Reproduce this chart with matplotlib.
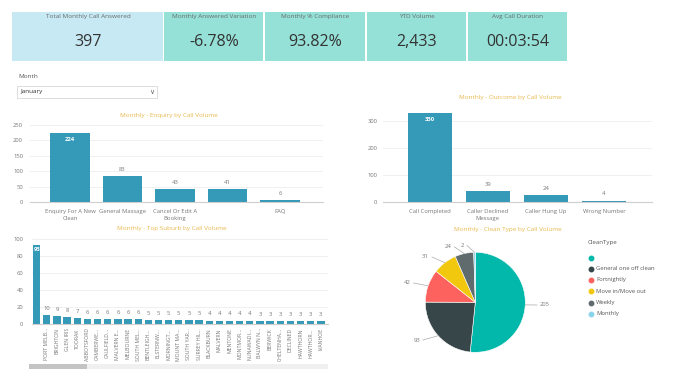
import matplotlib
matplotlib.use("Agg")
import matplotlib.pyplot as plt
from matplotlib.patches import Rectangle

plt.rcParams['font.family'] = ['Open Sans', 'DejaVu Sans']

W, H = 680, 371

# ---------------- data ----------------
kpi_titles = ["Total Monthly Call Answered", "Monthly Answered Variation",
              "Monthly % Compliance", "YTD Volume", "Avg Call Duration"]
kpi_values = ["397", "-6.78%", "93.82%", "2,433", "00:03:54"]

enq_cats = ["Enquiry For A New\nClean", "General Massage", "Cancel Or Edit A\nBooking", "", "FAQ"]
enq_vals = [224, 83, 43, 41, 6]

out_cats = ["Call Completed", "Caller Declined\nMessage", "Caller Hung Up", "Wrong Number"]
out_vals = [330, 39, 24, 4]

sub_cats = ["", "PORT MELB...", "BRIGHTON", "GLEN IRIS", "TOORAK", "ABBOTSFORD",
            "CAMBERWE...", "CAULFIELD...", "MALVERN E...", "MELBOURNE", "SOUTH MEL...",
            "BENTLEIGH...", "ELSTERNW...", "MORNINGT...", "MOUNT MA...", "SOUTH YAR...",
            "SURREY HIL...", "BLACKBURN", "MALVERN", "MENTONE", "MONTMOR...",
            "NUNAWADI...", "BALWYN N...", "BERWICK", "CHELTENHA...", "DECLINED",
            "HAWTHORN", "HAWTHOR...", "IVANHOE"]
sub_vals = [93, 10, 9, 8, 7, 6, 6, 6, 6, 6, 6, 5, 5, 5, 5, 5, 5, 4, 4, 4, 4, 4,
            3, 3, 3, 3, 3, 3, 3]

clean_cats = ["", "General one off clean", "Fortnightly", "Move in/Move out", "Weekly", "Monthly"]
clean_vals = [205, 93, 42, 31, 24, 2]
clean_colors = ["#01b8aa", "#374649", "#fd625e", "#f2c80f", "#5f6b6d", "#8ad4eb"]

BAR = "#3599b8"
TITLE_C = "#e8b84c"
GRAY = "#777777"

fig = plt.figure(figsize=(6.8, 3.71), dpi=100)
fig.patch.set_facecolor("white")


def rect(x0, y0, x1, y1):
    return [x0 / W, 1 - y1 / H, (x1 - x0) / W, (y1 - y0) / H]


def ftxt(x, y, s, **kw):
    fig.text(x / W, 1 - y / H, s, **kw)


# ---------------- KPI cards ----------------
cards = [(12, 164, "#c6e9f3"), (164, 264, "#95e1d7"), (265, 366, "#95e1d7"),
         (367, 467, "#95e1d7"), (468, 568, "#95e1d7")]
for (x0, x1, col), t, v in zip(cards, kpi_titles, kpi_values):
    fig.patches.append(Rectangle((x0 / W, 1 - 61 / H), (x1 - x0 - 1) / W, 49 / H,
                                 transform=fig.transFigure, facecolor=col,
                                 edgecolor="none"))
    cx = (x0 + x1) / 2
    ftxt(cx, 16.5, t, ha="center", va="center", fontsize=4.6, color="#6a6a6a")
    ftxt(cx, 42.5, v, ha="center", va="center", fontsize=11.5, color="#333333")

# ---------------- slicer ----------------
ftxt(18, 77, "Month", ha="left", va="center", fontsize=4.6, color="#555555")
fig.patches.append(Rectangle((17 / W, 1 - 98 / H), 140 / W, 12.5 / H,
                             transform=fig.transFigure, facecolor="white",
                             edgecolor="#d8d8d8", linewidth=0.6))
ftxt(20, 92, "January", ha="left", va="center", fontsize=4.6, color="#333333")
ftxt(152, 91.5, "\u2228", ha="center", va="center", fontsize=5, color="#666666",
     family=["DejaVu Sans"])


def style_axes(ax, pad):
    for s in ["top", "right", "left"]:
        ax.spines[s].set_visible(False)
    ax.spines["bottom"].set_color("#cfcfcf")
    ax.spines["bottom"].set_linewidth(0.8)
    ax.tick_params(axis="both", length=0, labelsize=4.2, colors=GRAY)
    ax.tick_params(axis="y", pad=pad)
    ax.yaxis.grid(True, color="#eeeeee", linewidth=0.6)
    ax.set_axisbelow(True)
    ax.set_facecolor("none")


def bar_labels(ax, vals, top_idx, inside_off):
    for i, v in enumerate(vals):
        if i == top_idx:
            ax.annotate(str(v), (i, v), xytext=(0, -inside_off), textcoords="offset points",
                        ha="center", va="top", fontsize=4.2, color="white",
                        fontweight="bold")
        else:
            ax.annotate(str(v), (i, v), xytext=(0, 3), textcoords="offset points",
                        ha="center", va="bottom", fontsize=4.2, color=GRAY)


# ---------------- Enquiry ----------------
ax1 = fig.add_axes(rect(30, 125, 323, 202))
ax1.bar(range(len(enq_vals)), enq_vals, width=0.76, color=BAR)
ax1.set_ylim(0, 250)
ax1.set_xlim(-0.762, 4.82)
ax1.set_yticks([0, 50, 100, 150, 200, 250])
ax1.set_xticks(range(len(enq_cats)))
ax1.set_xticklabels(enq_cats, linespacing=1.5)
style_axes(ax1, 5)
ax1.tick_params(axis="x", pad=5)
bar_labels(ax1, enq_vals, 0, 3)
ftxt(169, 115, "Monthly - Enquiry by Call Volume", ha="center", va="center",
     fontsize=4.6, color=TITLE_C)

# ---------------- Outcome ----------------
ax2 = fig.add_axes(rect(383, 107.2, 652, 201.7))
ax2.bar(range(len(out_vals)), out_vals, width=0.76, color=BAR)
ax2.set_ylim(0, 350)
ax2.set_xlim(-0.805, 3.83)
ax2.set_yticks([0, 100, 200, 300])
ax2.set_xticks(range(len(out_cats)))
ax2.set_xticklabels(out_cats, linespacing=1.5)
style_axes(ax2, 4)
ax2.tick_params(axis="x", pad=5)
bar_labels(ax2, out_vals, 0, 3)
ftxt(510, 97.5, "Monthly - Outcome by Call Volume", ha="center", va="center",
     fontsize=4.6, color=TITLE_C)

# ---------------- Suburb ----------------
ax3 = fig.add_axes(rect(31.7, 238.7, 328, 324))
ax3.bar(range(len(sub_vals)), sub_vals, width=0.72, color=BAR)
ax3.set_ylim(0, 100)
ax3.set_xlim(-0.49, 28.7)
ax3.set_yticks([0, 20, 40, 60, 80, 100])
ax3.set_xticks(range(len(sub_cats)))
ax3.set_xticklabels(sub_cats, rotation=90, fontsize=3.7)
style_axes(ax3, 6)
ax3.tick_params(axis="x", labelsize=3.7, pad=3)
bar_labels(ax3, sub_vals, 0, 2)
ftxt(172, 228.5, "Monthly - Top Suburb by Call Volume", ha="center", va="center",
     fontsize=4.6, color=TITLE_C)
# scrollbar
fig.patches.append(Rectangle((29 / W, 1 - 368.7 / H), (328 - 29) / W, 4.4 / H,
                             transform=fig.transFigure, facecolor="#f0f0f0",
                             edgecolor="none"))
fig.patches.append(Rectangle((29 / W, 1 - 368.7 / H), (87 - 29) / W, 4.4 / H,
                             transform=fig.transFigure, facecolor="#c4c4c4",
                             edgecolor="none"))

# ---------------- Pie ----------------
cx, cy, r = 475.3, 302.3, 50
ax4 = fig.add_axes(rect(cx - r, cy - r, cx + r, cy + r))
wedges, _ = ax4.pie(clean_vals, colors=clean_colors, startangle=90, counterclock=False,
                    radius=1.0, wedgeprops=dict(edgecolor="white", linewidth=0.4))
ax4.set_xlim(-1, 1)
ax4.set_ylim(-1, 1)
ax4.set_aspect("auto")
ax4.axis("off")
ftxt(508, 229.5, "Monthly - Clean Type by Call Volume", ha="center", va="center",
     fontsize=4.6, color=TITLE_C)

# pie data labels with leader lines (pixel positions of text)
pie_lbl = [(540, 305, "left"), (420, 340, "right"), (410.5, 283, "right"),
           (429, 257, "right"), (451.5, 247, "right"), (464, 245.5, "right")]
import numpy as np
total = sum(clean_vals)
start = 90.0
for (tx, ty, ha), v in zip(pie_lbl, clean_vals):
    frac = v / total * 360
    mid = np.deg2rad(start - frac / 2)
    start -= frac
    ex, ey = cx + r * np.cos(mid), cy - r * np.sin(mid)
    kx = tx - 3 if ha == "left" else tx + 3
    fig.add_artist(plt.Line2D([ex / W, kx / W], [1 - ey / H, 1 - ty / H],
                              transform=fig.transFigure, color="#aaaaaa", linewidth=0.5))
    ftxt(tx, ty, str(v), ha=ha, va="center", fontsize=4.2, color=GRAY)

# legend
ftxt(588, 242, "CleanType", ha="left", va="center", fontsize=4.4, color="#555555")
leg_y = [257.7, 269, 280, 291.3, 302.7, 314]
for ly, lab, col in zip(leg_y, clean_cats, clean_colors):
    fig.add_artist(plt.Line2D([590.7 / W], [1 - ly / H], transform=fig.transFigure,
                              marker="o", markersize=3.2, color=col, linestyle="none"))
    ftxt(596, ly, lab, ha="left", va="center", fontsize=4.2, color="#555555")

fig.savefig("out.png", dpi=100, facecolor="white")
